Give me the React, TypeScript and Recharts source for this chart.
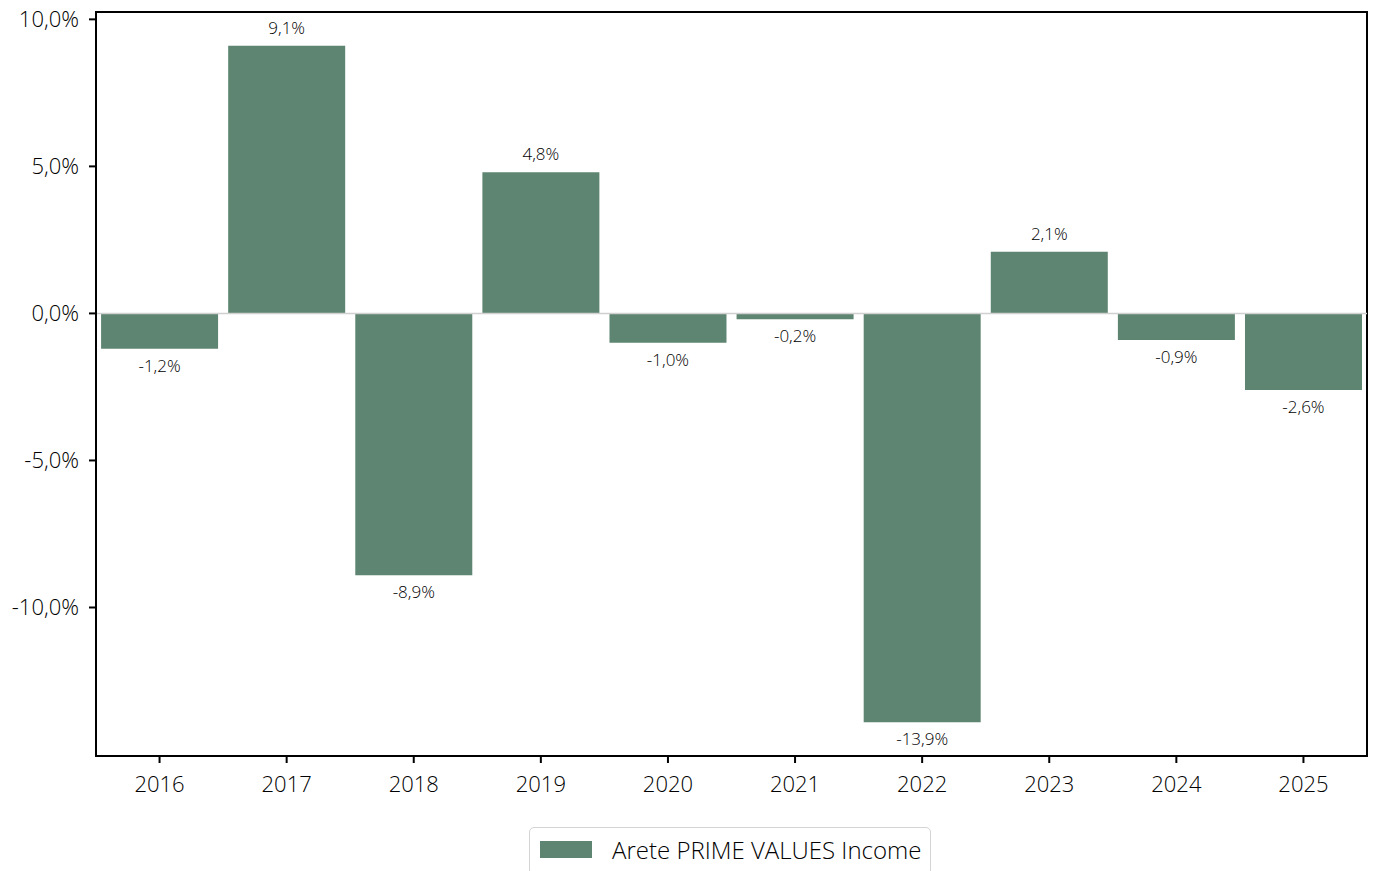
import React from "react";
import * as R from "recharts";
import {
  BarChart,
  Bar,
  XAxis,
  YAxis,
  ReferenceLine,
  LabelList,
  Legend,
} from "recharts";

const years = ["2016", "2017", "2018", "2019", "2020", "2021", "2022", "2023", "2024", "2025"];
const returns = [-1.2, 9.1, -8.9, 4.8, -1.0, -0.2, -13.9, 2.1, -0.9, -2.6];
const yTicks = [10, 5, 0, -5, -10];
const seriesName = "Arete PRIME VALUES Income";

const data = years.map((y, i) => ({ year: y, value: returns[i] }));

const FONT = "'Open Sans', 'Noto Sans', sans-serif";
const WEIGHT = 350;
const BAR_COLOR = "#5e8571";

const fmt = (v: number) => v.toFixed(1).replace(".", ",") + "%";

const BarLabel = (props: any) => {
  const { x, y, width, height, value } = props;
  const top = Math.min(y, y + height);
  const bottom = Math.max(y, y + height);
  const cx = x + width / 2;
  const common = { textAnchor: "middle" as const, fontSize: 17, fill: "#000", fontFamily: FONT, fontWeight: WEIGHT };
  if (value >= 0) {
    return (
      <text x={cx} y={top - 12} {...common}>
        {fmt(value)}
      </text>
    );
  }
  return (
    <text x={cx} y={bottom + 23} {...common}>
      {fmt(value)}
    </text>
  );
};

const Frame = () => {
  const hook = (R as any).usePlotArea;
  const area = hook ? hook() : null;
  if (!area) return null;
  return (
    <rect
      x={area.x}
      y={area.y}
      width={area.width}
      height={area.height}
      fill="none"
      stroke="#000"
      strokeWidth={2}
    />
  );
};

const LegendContent = () => (
  <div
    style={{
      display: "flex",
      alignItems: "center",
      border: "1.5px solid #d4d4d4",
      borderRadius: 5,
      padding: "5px 9px 8px 10px",
      background: "#fff",
      fontFamily: FONT,
      fontWeight: WEIGHT,
      fontSize: 24,
      color: "#000",
      whiteSpace: "nowrap",
    }}
  >
    <span style={{ display: "inline-block", width: 52, height: 17, background: BAR_COLOR, marginRight: 20 }} />
    <span>{seriesName}</span>
  </div>
);

export default function App() {
  return (
    <div style={{ position: "absolute", left: 0, top: 0, width: 1375, height: 871, background: "#fff" }}>
      <BarChart
        width={1375}
        height={871}
        data={data}
        margin={{ top: 12, right: 8, bottom: 75, left: 10 }}
        barCategoryGap="4%"
      >
        <XAxis
          dataKey="year"
          axisLine={{ stroke: "#000", strokeWidth: 2 }}
          tickLine={{ stroke: "#000", strokeWidth: 2 }}
          tickSize={7}
          height={40}
          tick={{ fill: "#000", fontSize: 22, fontFamily: FONT, fontWeight: WEIGHT, dy: 11 }}
          interval={0}
        />
        <YAxis
          type="number"
          domain={[-15.05, 10.25]}
          ticks={yTicks}
          allowDataOverflow
          width={86}
          axisLine={{ stroke: "#000", strokeWidth: 2 }}
          tickLine={{ stroke: "#000", strokeWidth: 2 }}
          tickSize={7}
          tickFormatter={fmt}
          tick={{ fill: "#000", fontSize: 22, fontFamily: FONT, fontWeight: WEIGHT, dx: -8 }}
        />
        <ReferenceLine y={0} stroke="#d0d0d0" strokeWidth={1.5} />
        <Bar dataKey="value" name={seriesName} fill={BAR_COLOR} isAnimationActive={false}>
          <LabelList dataKey="value" content={BarLabel} />
        </Bar>
        <Frame />
        <Legend
          layout="horizontal"
          verticalAlign="middle"
          align="center"
          content={LegendContent}
          wrapperStyle={{ position: "absolute", left: 529, top: 827, width: "auto", height: "auto" }}
        />
      </BarChart>
    </div>
  );
}
